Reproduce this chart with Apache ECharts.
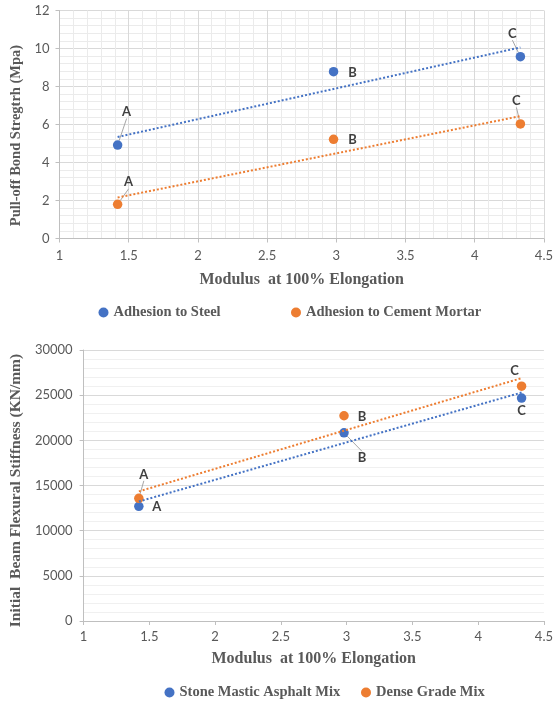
<!DOCTYPE html>
<html>
<head>
<meta charset="utf-8">
<script src="https://cdn.jsdelivr.net/npm/echarts@6/dist/echarts.min.js"></script>
<style>html,body{margin:0;padding:0;background:#fff}#c{width:556px;height:703px}</style>
</head>
<body>
<div id="c"></div>
<script>
// ---- data ----
const pointLabels = ['A', 'B', 'C'];
const modulusTop = [1.42, 2.98, 4.33];
const adhesionSteel = [4.92, 8.78, 9.57];
const adhesionMortar = [1.80, 5.22, 6.03];
const modulusBottom = [1.42, 2.98, 4.33];
const stoneMastic = [12700, 20830, 24680];
const denseGrade = [13580, 22720, 26000];

// ---- label placement (style, not data) ----
const labelOffsets = {
  steel:  [[9, -33, true], [19, 1, false], [-8, -23, true]],
  mortar: [[11, -22, true], [19, 0, false], [-4, -23, true]],
  sma:    [[18, 1, false], [18, 25, true], [0, 13, false]],
  dense:  [[5, -24, true], [18, 1, false], [-7, -15, false]]
};

const BLUE = '#4472C4', ORANGE = '#ED7D31', GREY = '#595959';

function fit(xs, ys) {
  const n = xs.length;
  const mx = xs.reduce((a, b) => a + b, 0) / n;
  const my = ys.reduce((a, b) => a + b, 0) / n;
  let sxy = 0, sxx = 0;
  for (let i = 0; i < n; i++) { sxy += (xs[i] - mx) * (ys[i] - my); sxx += (xs[i] - mx) ** 2; }
  const b = sxy / sxx, a = my - b * mx;
  const x0 = Math.min(...xs), x1 = Math.max(...xs);
  return [[x0, a + b * x0], [x1, a + b * x1]];
}

function pts(xs, ys, key) {
  return xs.map((x, i) => ({
    value: [x, ys[i]],
    name: pointLabels[i],
    labelLine: { show: labelOffsets[key][i][2] }
  }));
}

function scatter(name, xs, ys, key, color, gi) {
  return {
    type: 'scatter', name, xAxisIndex: gi, yAxisIndex: gi,
    symbolSize: 9.5, itemStyle: { color, opacity: 1 }, z: 3,
    data: pts(xs, ys, key),
    label: {
      show: true, position: 'inside', formatter: p => p.name,
      color: '#404040', fontFamily: 'Lato', fontWeight: 'bold', fontSize: 13
    },
    labelLine: { show: true, lineStyle: { color: '#A6A6A6', width: 1 } },
    labelLayout: p => {
      const o = labelOffsets[key][p.dataIndex];
      return { dx: o[0], dy: o[1] };
    }
  };
}

function trend(name, xs, ys, color, gi) {
  return {
    type: 'line', name, xAxisIndex: gi, yAxisIndex: gi, showSymbol: false, silent: true, z: 4,
    data: fit(xs, ys),
    lineStyle: { color, width: 2, type: [2, 2], cap: 'butt' }
  };
}

const tickFont = { color: GREY, fontFamily: 'Lato', fontSize: 13 };
const titleFont = { color: GREY, fontFamily: 'Liberation Serif', fontWeight: 'bold', fontSize: 16 };
const axisLine = { show: true, lineStyle: { color: '#BFBFBF', width: 1 } };

function legend(name, left, top) {
  return {
    data: [name], left, top, padding: 0, icon: 'circle', itemWidth: 10, itemHeight: 10,
    textStyle: { color: GREY, fontFamily: 'Liberation Serif', fontWeight: 'bold', fontSize: 14.5 },
    selectedMode: false
  };
}

const option = {
  animation: false,
  backgroundColor: '#fff',
  grid: [
    { left: 59.5, right: 11, top: 10.5, height: 228 },
    { left: 83, right: 11, top: 350, height: 271 }
  ],
  xAxis: [
    {
      gridIndex: 0, type: 'value', min: 1, max: 4.5, interval: 0.5,
      name: 'Modulus  at 100% Elongation', nameLocation: 'middle', nameGap: 33, nameTextStyle: titleFont,
      axisLine, axisTick: { show: true, length: 4, lineStyle: { color: '#BFBFBF' } },
      axisLabel: Object.assign({ margin: 11 }, tickFont),
      splitLine: { show: true, lineStyle: { color: '#D9D9D9' } },
      minorTick: { show: false, splitNumber: 5 },
      minorSplitLine: { show: true, lineStyle: { color: '#EBEBEB' } }
    },
    {
      gridIndex: 1, type: 'value', min: 1, max: 4.5, interval: 0.5,
      name: 'Modulus  at 100% Elongation', nameLocation: 'middle', nameGap: 30, nameTextStyle: titleFont,
      axisLine, axisTick: { show: true, length: 4, lineStyle: { color: '#BFBFBF' } },
      axisLabel: Object.assign({ margin: 9 }, tickFont),
      splitLine: { show: false }
    }
  ],
  yAxis: [
    {
      gridIndex: 0, type: 'value', min: 0, max: 12, interval: 2,
      name: 'Pull-off Bond Stregtrh (Mpa)', nameLocation: 'middle', nameGap: 36,
      nameTextStyle: Object.assign({}, titleFont, { fontSize: 14.5, padding: [0, 22, 0, 0] }),
      axisLine, axisTick: { show: true, length: 4, lineStyle: { color: '#BFBFBF' } },
      axisLabel: Object.assign({ margin: 10 }, tickFont),
      splitLine: { show: true, lineStyle: { color: '#D9D9D9' } },
      minorTick: { show: false, splitNumber: 5 },
      minorSplitLine: { show: true, lineStyle: { color: '#EBEBEB' } }
    },
    {
      gridIndex: 1, type: 'value', min: 0, max: 30000, interval: 5000,
      name: 'Initial  Beam Flexural Stiffness (KN/mm)', nameLocation: 'middle', nameGap: 57,
      nameTextStyle: Object.assign({}, titleFont, { fontSize: 15.5, padding: [0, 10, 0, 0] }),
      axisLine, axisTick: { show: true, length: 4, lineStyle: { color: '#BFBFBF' } },
      axisLabel: Object.assign({ margin: 11, formatter: v => String(v) }, tickFont),
      splitLine: { show: true, lineStyle: { color: '#D9D9D9' } },
      minorTick: { show: false, splitNumber: 5 },
      minorSplitLine: { show: true, lineStyle: { color: '#F0F0F0' } }
    }
  ],
  legend: [
    legend('Adhesion to Steel', 98.5, 305),
    legend('Adhesion to Cement Mortar', 291, 305),
    legend('Stone Mastic Asphalt Mix', 164.5, 685),
    legend('Dense Grade Mix', 361, 685)
  ],
  series: [
    trend('Linear (Adhesion to Steel)', modulusTop, adhesionSteel, BLUE, 0),
    trend('Linear (Adhesion to Cement Mortar)', modulusTop, adhesionMortar, ORANGE, 0),
    trend('Linear (Stone Mastic Asphalt Mix)', modulusBottom, stoneMastic, BLUE, 1),
    trend('Linear (Dense Grade Mix)', modulusBottom, denseGrade, ORANGE, 1),
    scatter('Adhesion to Steel', modulusTop, adhesionSteel, 'steel', BLUE, 0),
    scatter('Adhesion to Cement Mortar', modulusTop, adhesionMortar, 'mortar', ORANGE, 0),
    scatter('Stone Mastic Asphalt Mix', modulusBottom, stoneMastic, 'sma', BLUE, 1),
    scatter('Dense Grade Mix', modulusBottom, denseGrade, 'dense', ORANGE, 1)
  ]
};

const chart = echarts.init(document.getElementById('c'), null, { renderer: 'canvas' });
chart.setOption(option);
</script>
</body>
</html>
